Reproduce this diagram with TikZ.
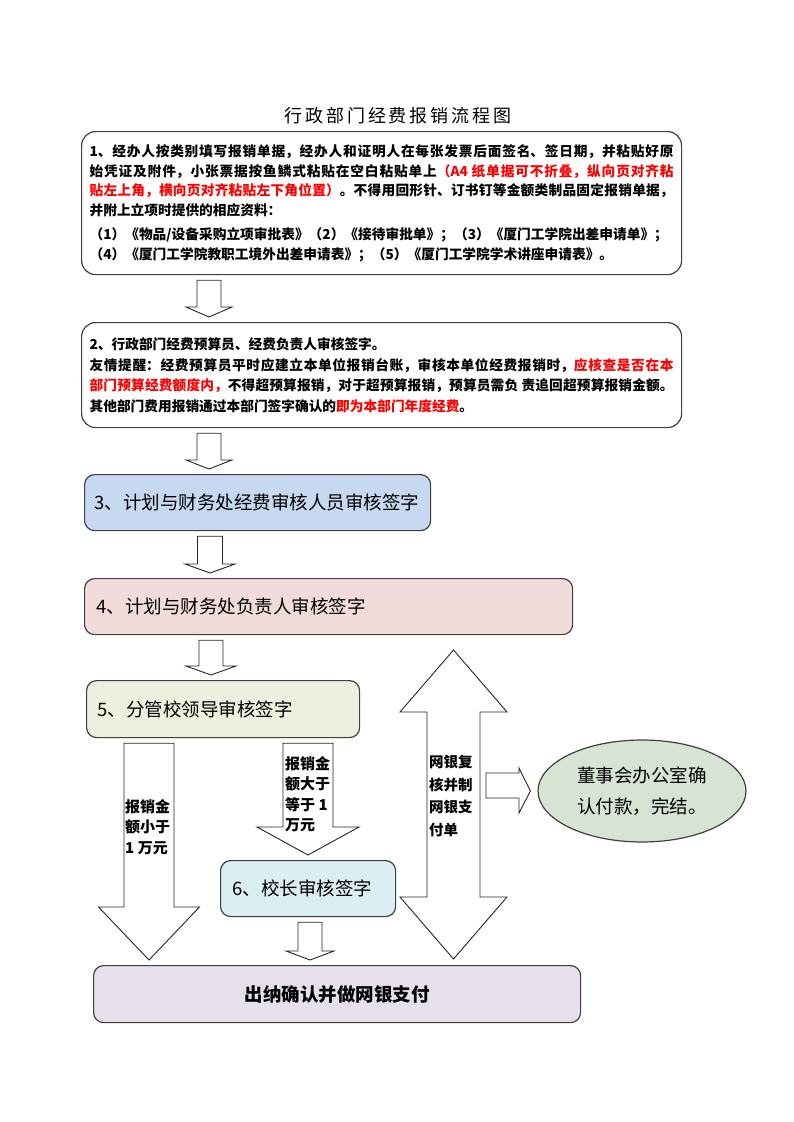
\documentclass[tikz,border=0pt]{standalone}
\usepackage{fontspec}
\setmainfont{Noto Sans CJK SC}
\newfontfamily\titlefont{Noto Sans CJK SC}[LetterSpace=16]
\usetikzlibrary{shapes.geometric,calc}
\XeTeXlinebreaklocale "zh"
\XeTeXlinebreakskip=0pt
\newcommand\cjkstretch{\XeTeXlinebreakskip=0pt plus 2pt\relax}
\definecolor{boxline}{HTML}{404040}
\definecolor{alertred}{HTML}{FF0000}
\definecolor{bluefill}{HTML}{C6D9F1}
\definecolor{pinkfill}{HTML}{F2DCDB}
\definecolor{olivefill}{HTML}{EBF1DE}
\definecolor{cyanfill}{HTML}{DBEEF4}
\definecolor{lilacfill}{HTML}{E5E0EC}
\definecolor{sagefill}{HTML}{D7E4D3}
\newcommand\blockdown[6]{%
  \draw[blockarrow] let \p1=(#1,0 |- #2.south), \p2=(#1,0 |- #3.north) in
    (\x1-#4pt,\y1-5pt) -- (\x1+#4pt,\y1-5pt) -- (\x1+#4pt,\y2+5pt+#6pt)
    -- (\x1+#5pt,\y2+5pt+#6pt) -- (\x1,\y2+5pt) -- (\x1-#5pt,\y2+5pt+#6pt)
    -- (\x1-#4pt,\y2+5pt+#6pt) -- cycle;}

\begin{document}
\begin{tikzpicture}[
x=1pt,
y=-1pt,
card/.style={
  draw=boxline,
  line width=1.2pt,
  rounded corners=10pt,
  anchor=north west,
  inner xsep=12pt,
  inner ysep=0pt,
  align=left,
  font=\fontsize{18.5}{22}\selectfont
  },
notecard/.style={
  card,
  fill=white,
  inner xsep=8pt,
  rounded corners=14pt,
  align=justify,
  font=\fontsize{13.7}{19.8}\selectfont\bfseries\cjkstretch
  },
tag/.style={
  inner sep=0pt,
  anchor=west,
  align=left,
  font=\fontsize{15}{20.5}\selectfont\bfseries
  },
blockarrow/.style={
  draw=black!85,
  line width=0.9pt,
  fill=white
  }
]
\useasboundingbox (0,0) rectangle (793,1122);

\node[font=\titlefont\fontsize{18}{18}\selectfont] (title) at (398,116) {行政部门经费报销流程图};

\node[notecard, minimum width=600pt, minimum height=143pt, text width=584pt] (claim) at (81,131)
{1、经办人按类别填写报销单据，经办人和证明人在每张发票后面签名、签日期，并粘贴好原\linebreak
始凭证及附件，小张票据按鱼鳞式粘贴在空白粘贴单上\textcolor{alertred}{（A4 纸单据可不折叠，纵向页对齐粘\linebreak
贴左上角，横向页对齐粘贴左下角位置）}。不得用回形针、订书钉等金额类制品固定报销单据，\linebreak
并附上立项时提供的相应资料：\\[4pt]
（1）《物品/设备采购立项审批表》（2）《接待审批单》；（3）《厦门工学院出差申请单》；\\
（4）《厦门工学院教职工境外出差申请表》；（5）《厦门工学院学术讲座申请表》。};

\node[notecard, minimum width=600pt, minimum height=105pt, text width=584pt, font=\fontsize{13.7}{20.7}\selectfont\bfseries\cjkstretch] (deptcheck) at (81,322)
{2、行政部门经费预算员、经费负责人审核签字。\\
友情提醒：经费预算员平时应建立本单位报销台账，审核本单位经费报销时，\textcolor{alertred}{应核查是否在本\linebreak
部门预算经费额度内，}不得超预算报销，对于超预算报销，预算员需负 责追回超预算报销金额。\linebreak
其他部门费用报销通过本部门签字确认的\textcolor{alertred}{即为本部门年度经费}。};

\node[card, fill=bluefill, minimum width=346pt, minimum height=56pt, inner xsep=10pt, text width=326pt] (finaudit) at (84,474) {3、计划与财务处经费审核人员审核签字};
\node[card, fill=pinkfill, minimum width=488pt, minimum height=56pt, text width=464pt] (finhead) at (84,578) {4、计划与财务处负责人审核签字};
\node[card, fill=olivefill, minimum width=273pt, minimum height=57pt, inner xsep=11pt, text width=251pt] (leader) at (86,680) {5、分管校领导审核签字};
\node[card, fill=cyanfill, minimum width=175pt, minimum height=56pt, text width=151pt] (president) at (220,860) {6、校长审核签字};
\node[card, fill=lilacfill, minimum width=487pt, minimum height=57pt, text width=463pt, align=center, font=\fontsize{18.5}{22}\selectfont\bfseries] (cashier) at (93,965) {出纳确认并做网银支付};
\node[draw=boxline, line width=1.2pt, ellipse, fill=sagefill, minimum width=208pt, minimum height=102pt, inner sep=0pt, align=center, font=\fontsize{18.5}{31}\selectfont] (board) at (642,791) {董事会办公室确\\认付款，完结。};

\foreach \ax/\src/\dst/\sh/\hh/\hl in {209/claim/deptcheck/12/23/10, 209/deptcheck/finaudit/12/23/9, 210/finaudit/finhead/12.5/25/9, 211/finhead/leader/12/25/9, 308/leader/president/25/51/28, 149/leader/cashier/25/50.5/53, 310/president/cashier/12/24/9}
  \blockdown{\ax}{\src}{\dst}{\sh}{\hh}{\hl};

\draw[blockarrow] let \p1=(453.5,0 |- cashier.north) in
  (453.5,650) -- (507,712) -- (480,712) -- (480,897) -- (507,897) -- (\x1,\y1+6pt)
  -- (400,897) -- (427,897) -- (427,712) -- (400,712) -- cycle;
\draw[blockarrow] let \p1=(board.west) in
  (486,773) -- (519,773) -- (519,768) -- (\x1-7pt,\y1) -- (519,813) -- (519,798) -- (486,798) -- cycle;

\node[tag] (smalltag) at (125,827) {报销金\\额小于\\1 万元};
\node[tag] (bigtag) at (285,794) {报销金\\额大于\\等于 1\\万元};
\node[tag, font=\fontsize{14.5}{22.7}\selectfont\bfseries] (banktag) at (429,796) {网银复\\核并制\\网银支\\付单};
\end{tikzpicture}
\end{document}
